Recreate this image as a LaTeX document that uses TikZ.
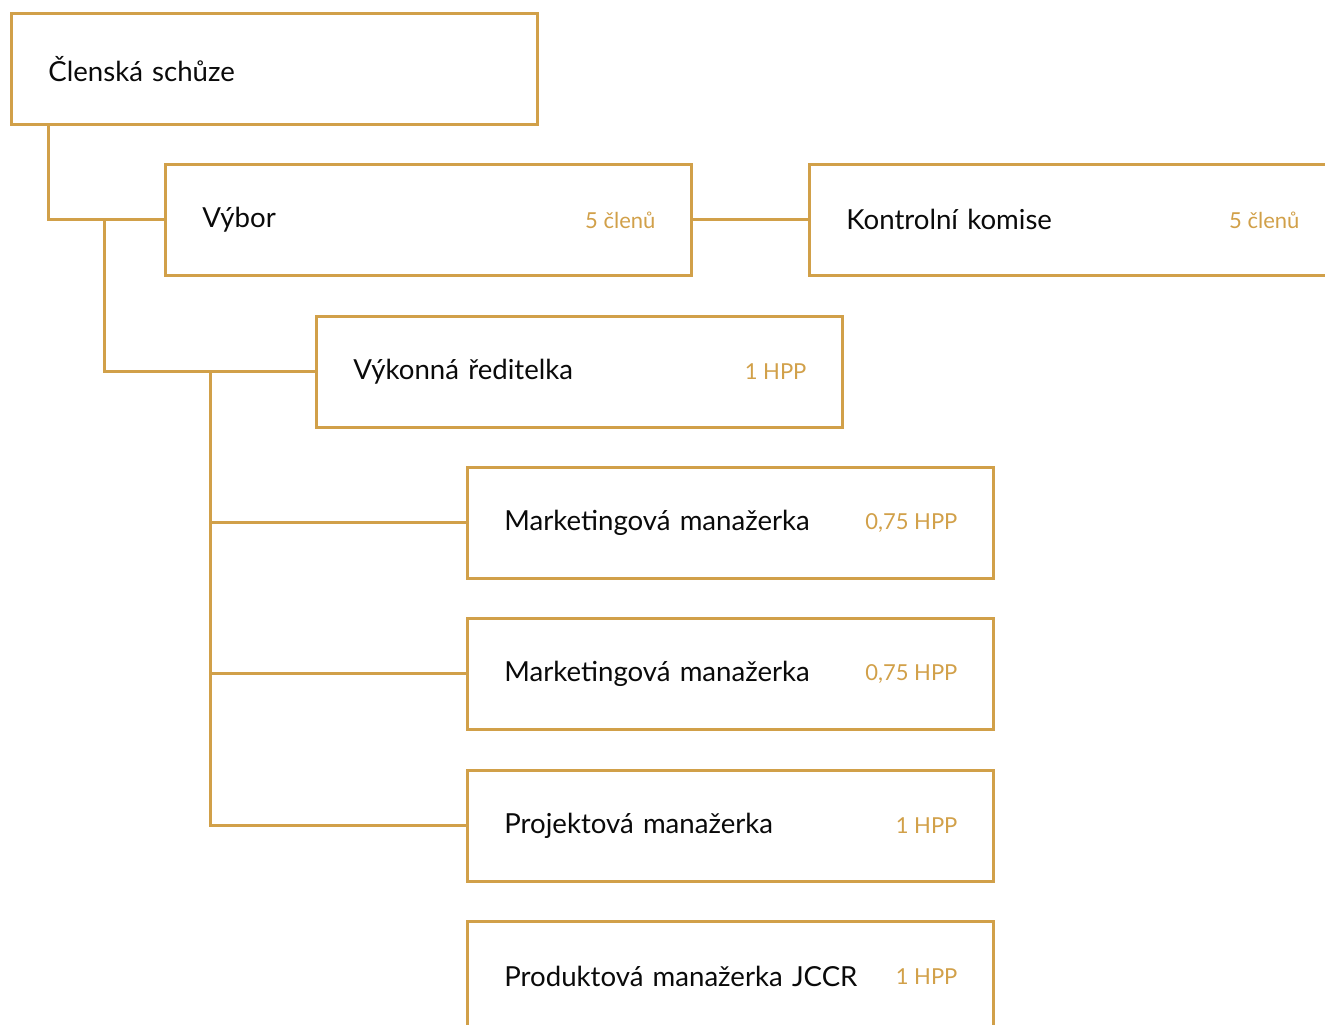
\documentclass[tikz,border=0pt]{standalone}
\usepackage{fontspec}
\setmainfont{Lato}
\definecolor{gold}{HTML}{D1A049}
\definecolor{ink}{HTML}{0A0A0A}

\tikzset{
  box/.style={draw=gold, line width=1.4pt, rectangle, anchor=north west,
    minimum width=263pt, minimum height=55.5pt, text width=226pt,
    inner xsep=18.5pt, align=left, text=ink, font=\fontsize{13.8}{16}\selectfont},
  fte/.style={text=gold, anchor=east, inner sep=0pt, font=\fontsize{11}{13}\selectfont},
  conn/.style={draw=gold, line width=1.5pt},
}

\begin{document}
\begin{tikzpicture}[x=0.5pt, y=-0.5pt]
\useasboundingbox (0,0) rectangle (1325,1024);
\clip (0,0) rectangle (1325,1024);

\node[box] (clen) at (10,12) {Členská schůze};
\node[box] (vybor) at (164,163) {Výbor};
\node[box] (kontrola) at (808,163) {Kontrolní komise};
\node[box] (reditelka) at (315,315) {Výkonná ředitelka};
\node[box] (mark1) at (466,466) {Marketingová manažerka};
\node[box] (mark2) at (466,617) {Marketingová manažerka};
\node[box] (projekt) at (466,769) {Projektová manažerka};
\node[box] (produkt) at (466,920) {Produktová manažerka JCCR};

\node[fte] (vybor-n) at ([xshift=-18.5pt]vybor.east) {5 členů};
\node[fte] (kontrola-n) at ([xshift=-18.5pt]kontrola.east) {5 členů};
\node[fte] (reditelka-n) at ([xshift=-18.5pt]reditelka.east) {1 HPP};
\node[fte] (mark1-n) at ([xshift=-18.5pt]mark1.east) {0,75 HPP};
\node[fte] (mark2-n) at ([xshift=-18.5pt]mark2.east) {0,75 HPP};
\node[fte] (projekt-n) at ([xshift=-18.5pt]projekt.east) {1 HPP};
\node[fte] (produkt-n) at ([xshift=-18.5pt]produkt.east) {1 HPP};

\draw[conn] (clen.south west) ++(38,0) |- (vybor.west);
\draw[conn] (vybor.east) -- (kontrola.west);
\draw[conn] (vybor.west) ++(-60,0) |- (reditelka.west);
\draw[conn] (reditelka.west) ++(-105,0) |- (mark1.west);
\draw[conn] (reditelka.west) ++(-105,0) |- (mark2.west);
\draw[conn] (reditelka.west) ++(-105,0) |- (projekt.west);

\end{tikzpicture}
\end{document}
